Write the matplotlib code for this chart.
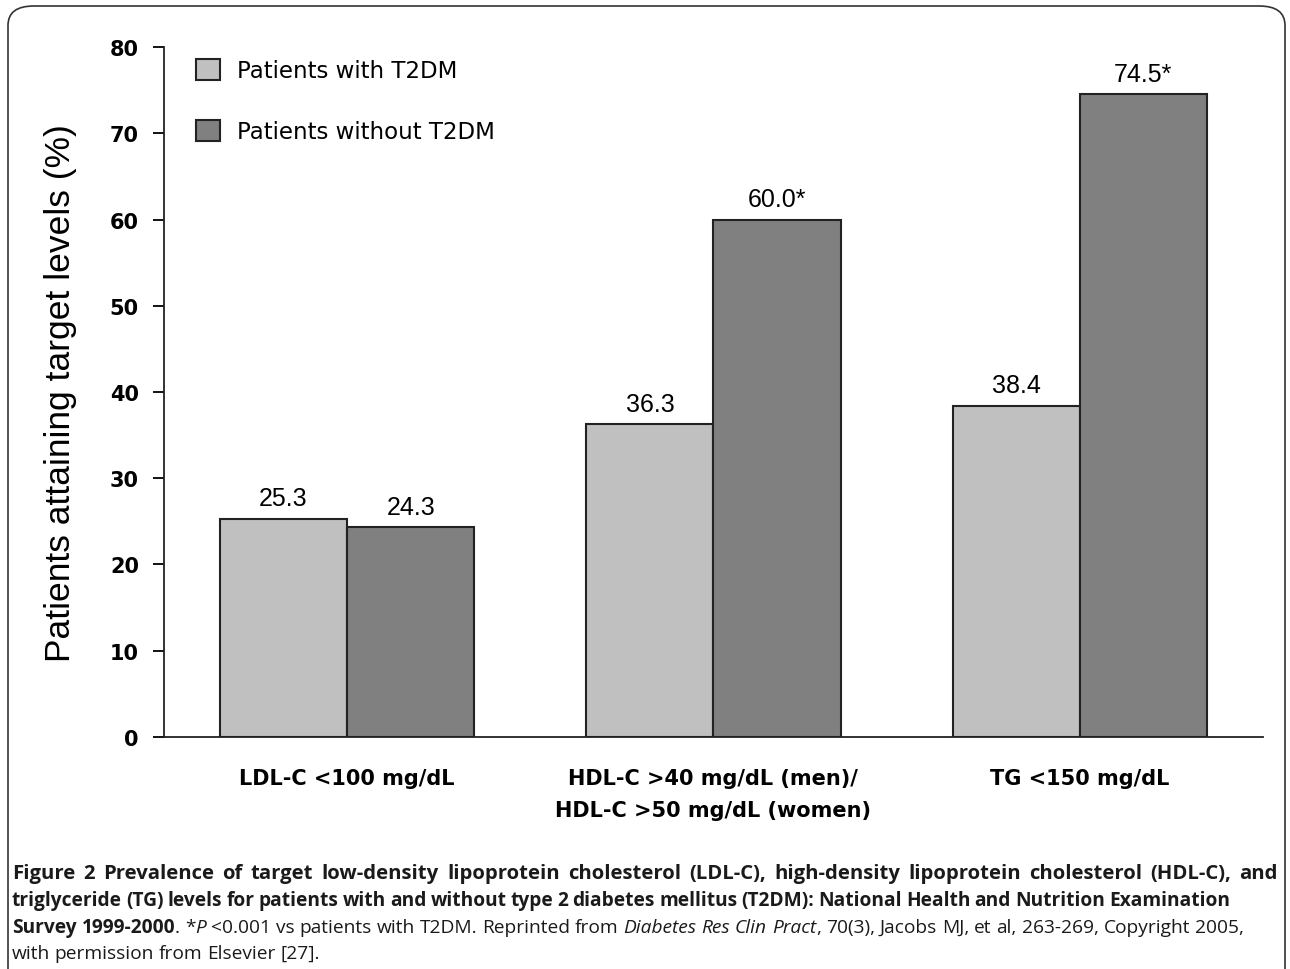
import numpy as np
import matplotlib.pyplot as plt
from matplotlib.patches import FancyBboxPatch

categories = ['LDL-C <100 mg/dL', 'HDL-C >40 mg/dL (men)/\nHDL-C >50 mg/dL (women)', 'TG <150 mg/dL']
with_t2dm = [25.3, 36.3, 38.4]
without_t2dm = [24.3, 60.0, 74.5]
with_labels = ['25.3', '36.3', '38.4']
without_labels = ['24.3', '60.0*', '74.5*']
series_names = ['Patients with T2DM', 'Patients without T2DM']

plt.rcParams['font.family'] = ['Liberation Sans', 'DejaVu Sans']
wide = ['DejaVu Sans']  # the chart in the source is stretched sideways

fig = plt.figure(figsize=(12.9, 9.7), dpi=100)
ax = fig.add_axes([0.1271, 0.2392, 0.8519, 0.7113])

x = np.arange(len(categories))
w = 0.347
b1 = ax.bar(x - w/2, with_t2dm, w, color='#c0c0c0', edgecolor='#222222', linewidth=1.5, label=series_names[0])
b2 = ax.bar(x + w/2, without_t2dm, w, color='#808080', edgecolor='#222222', linewidth=1.5, label=series_names[1])

for bars, labs in [(b1, with_labels), (b2, without_labels)]:
    for r, lab in zip(bars, labs):
        ax.annotate(lab, (r.get_x() + r.get_width()/2, r.get_height()), xytext=(0, 6),
                    textcoords='offset points', ha='center', va='bottom', fontsize=18)

ax.set_xlim(-0.5, 2.5)
ax.set_ylim(0, 80)
ax.set_yticks(range(0, 81, 10))
for lbl in ax.get_yticklabels():
    lbl.set_fontweight('bold')
    lbl.set_fontsize(15)
    lbl.set_family(wide)
ax.tick_params(axis='y', length=8, width=1.3, pad=10)
ax.set_xticks(x)
ax.set_xticklabels(categories, fontsize=15, fontweight='bold', linespacing=1.75, family=wide)
ax.tick_params(axis='x', length=0, pad=22)
for s in ['top', 'right']:
    ax.spines[s].set_visible(False)
for s in ['left', 'bottom']:
    ax.spines[s].set_linewidth(1.3)
    ax.spines[s].set_color('#222222')
ax.set_ylabel('Patients attaining target levels (%)', fontsize=25.5, labelpad=24)

ax.legend(loc='upper left', bbox_to_anchor=(0.01, 1.013), frameon=False,
          prop={'family': wide, 'size': 16.5},
          handlelength=1.05, handleheight=1.05, labelspacing=1.64, handletextpad=0.75)

# rounded frame around the figure
frame = FancyBboxPatch((8/1290, -0.05), 1277/1290, 1 - 7/970 + 0.05,
                       boxstyle='round,pad=0,rounding_size=0.02', transform=fig.transFigure,
                       fill=False, edgecolor='#333333', linewidth=1.2)
fig.patches.append(frame)

# caption: words placed one by one so lines can be justified
fig.canvas.draw()
renderer = fig.canvas.get_renderer()
cap_font = ['Open Sans', 'DejaVu Sans']
cap_color = '#1a1a1a'
B, R, I = ('bold', 'normal'), ('normal', 'normal'), ('normal', 'italic')

def put_line(words, y_px, right_px=None, x_px=12, space_px=4.6, size=13.8):
    # words: list of lists of (text, (weight, style))
    made = []
    for word in words:
        parts = []
        for txt, (weight, style) in word:
            t = fig.text(0, 1 - y_px / 970, txt, fontsize=size, family=cap_font,
                         fontweight=weight, fontstyle=style, color=cap_color, va='center', ha='left')
            parts.append((t, t.get_window_extent(renderer).width))
        made.append(parts)
    widths = [sum(p[1] for p in parts) for parts in made]
    gap = space_px
    if right_px is not None and len(made) > 1:
        gap = (right_px - x_px - sum(widths)) / (len(made) - 1)
    xp = x_px
    for parts, wd in zip(made, widths):
        xx = xp
        for t, pw in parts:
            t.set_x(xx / 1290)
            xx += pw
        xp += wd + gap

def words_of(txt, st):
    return [[(wd, st)] for wd in txt.split(' ')]

put_line(words_of('Figure 2 Prevalence of target low-density lipoprotein cholesterol (LDL-C), high-density lipoprotein cholesterol (HDL-C), and', B), 874, 1278, size=14.6)
put_line(words_of('triglyceride (TG) levels for patients with and without type 2 diabetes mellitus (T2DM): National Health and Nutrition Examination', B), 901, 1230)
line3 = ([[('Survey', B)], [('1999-2000', B), ('.', R)], [('*', R), ('P', I)]]
         + words_of('<0.001 vs patients with T2DM. Reprinted from', R)
         + words_of('Diabetes Res Clin', I) + [[('Pract', I), (',', R)]]
         + words_of('70(3), Jacobs MJ, et al, 263-269, Copyright 2005,', R))
put_line(line3, 928, 1244)
put_line(words_of('with permission from Elsevier [27].', R), 954)

fig.savefig('out.png', dpi=100)
